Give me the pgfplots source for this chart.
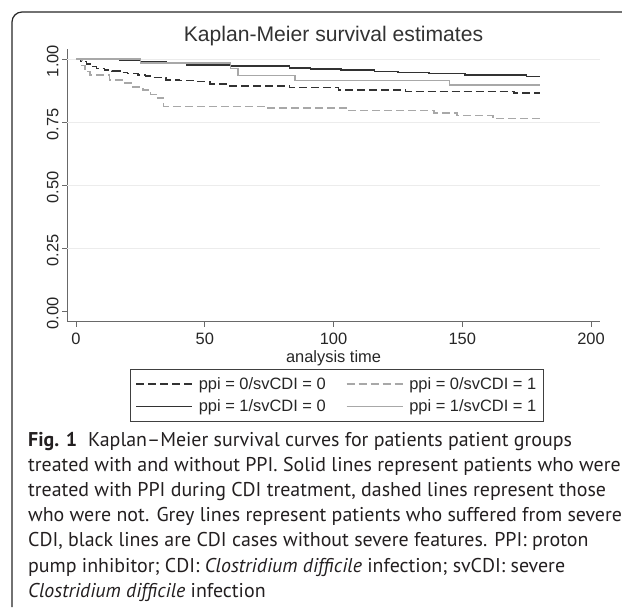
\documentclass[border=0pt]{standalone}
\usepackage{fontspec}
\setmainfont{Liberation Sans}
\newfontfamily\capfont{PT Sans}
\usepackage{pgfplots}
\pgfplotsset{compat=1.18}

\definecolor{dk}{RGB}{50,50,50}
\definecolor{lg}{RGB}{168,168,168}
\definecolor{axc}{RGB}{105,105,105}
\definecolor{gridc}{RGB}{236,236,236}
\definecolor{txt}{RGB}{35,31,32}

\begin{document}
\begin{tikzpicture}
\begin{scope}[x=1bp,y=-1bp]
\useasboundingbox (0,0) rectangle (622,615);
\draw[line width=1.2bp, color=black!85, rounded corners=10bp] (12,607) -- (12,12) -- (623,12);
\node[font=\fontsize{21.2}{25}\selectfont, text=dk, anchor=base] at (333.5,41.5) {Kaplan-Meier survival estimates};
\end{scope}
\begin{axis}[
  at={(67bp,-321.7bp)}, anchor=south west,
  scale only axis, width=533bp, height=272.7bp,
  xmin=-3.5, xmax=203.5, ymin=-0.0396, ymax=1.0396,
  axis lines*=left, axis line style={-, color=axc, line width=1bp},
  xtick={0,50,100,150,200},
  ytick={0,0.25,0.5,0.75,1},
  yticklabels={0.00,0.25,0.50,0.75,1.00},
  tick align=outside, major tick length=5bp,
  tick style={color=axc, line width=0.9bp},
  /pgf/number format/assume math mode=true,
  ticklabel style={font=\fontsize{16.5}{19}\selectfont, text=black!85},
  y tick label style={rotate=90, anchor=south, xshift=-2bp},
  x tick label style={yshift=-3bp},
  extra y ticks={0.25,0.5,0.75,1},
  extra y tick labels={},
  extra y tick style={grid=major, major tick length=0pt, grid style={color=gridc, line width=0.8bp}},
  xlabel={analysis time},
  xlabel style={at={(axis description cs:0.5,-0.133)}, anchor=center, font=\fontsize{16.5}{19}\selectfont, text=black!85},
  legend columns=2,
  legend cell align=left,
  legend style={at={(0.118,-0.1734)}, anchor=north west, draw=black!75, line width=0.8bp,
    font=\fontsize{16.5}{19}\selectfont, text=black!85,
    /tikz/every odd column/.append style={column sep=4bp},
    /tikz/every even column/.append style={column sep=18bp},
    inner xsep=5bp, inner ysep=6bp, row sep=5bp},
  legend image code/.code={\draw[#1] (0bp,0bp) -- (56bp,0bp);},
]
% ppi=0 / svCDI=0 : black dashed
\addplot[const plot, dk, line width=1.5bp, dash pattern=on 8bp off 4bp] coordinates {
(0,1) (2,0.99) (4,0.98) (6,0.97) (8,0.963) (11,0.957) (14,0.952) (17,0.947) (20,0.942)
(24,0.937) (27,0.932) (30,0.927) (35,0.917) (40,0.914) (47,0.91) (52,0.902) (59,0.894)
(83,0.887) (102,0.878) (128,0.872) (170,0.866) (180,0.866)};
\addlegendentry{ppi = 0/svCDI = 0}
% ppi=0 / svCDI=1 : grey dashed
\addplot[const plot, lg, line width=1.5bp, dash pattern=on 8bp off 4bp] coordinates {
(0,1) (2.3,0.975) (3.5,0.95) (5.5,0.937) (13,0.917) (18,0.905) (22,0.89) (26,0.877)
(29,0.86) (31,0.845) (34,0.813) (74,0.806) (106,0.796) (139,0.786) (148,0.776)
(162,0.764) (180,0.764)};
\addlegendentry{ppi = 0/svCDI = 1}
% ppi=1 / svCDI=0 : black solid
\addplot[const plot, dk, line width=1.5bp] coordinates {
(0,1) (17,0.996) (25,0.99) (35,0.984) (43,0.977) (60,0.972) (83,0.965) (91,0.96)
(103,0.956) (116,0.951) (125,0.947) (137,0.942) (151,0.936) (175,0.930) (180,0.930)};
\addlegendentry{ppi = 1/svCDI = 0}
% ppi=1 / svCDI=1 : grey solid
\addplot[const plot, lg, line width=1.5bp] coordinates {
(0,1) (25,0.985) (60,0.962) (63,0.935) (85,0.915) (145,0.898) (180,0.898)};
\addlegendentry{ppi = 1/svCDI = 1}
\end{axis}
\begin{scope}[x=1bp,y=-1bp, every node/.style={anchor=base west, inner sep=0pt, text=txt, font=\capfont\fontsize{20}{24}\selectfont}]
\node at (28,446) {\textbf{Fig. 1}\hspace{0.55em}Kaplan–Meier survival curves for patients patient groups};
\node at (28,471.2) {treated with and without PPI. Solid lines represent patients who were};
\node at (28,496.4) {treated with PPI during CDI treatment, dashed lines represent those};
\node at (28,521.6) {who were not. Grey lines represent patients who suffered from severe};
\node at (28,546.8) {CDI, black lines are CDI cases without severe features. PPI: proton};
\node at (28,572) {pump inhibitor; CDI: \textit{Clostridium difficile} infection; svCDI: severe};
\node at (28,597.2) {\textit{Clostridium difficile} infection};
\end{scope}
\end{tikzpicture}
\end{document}
